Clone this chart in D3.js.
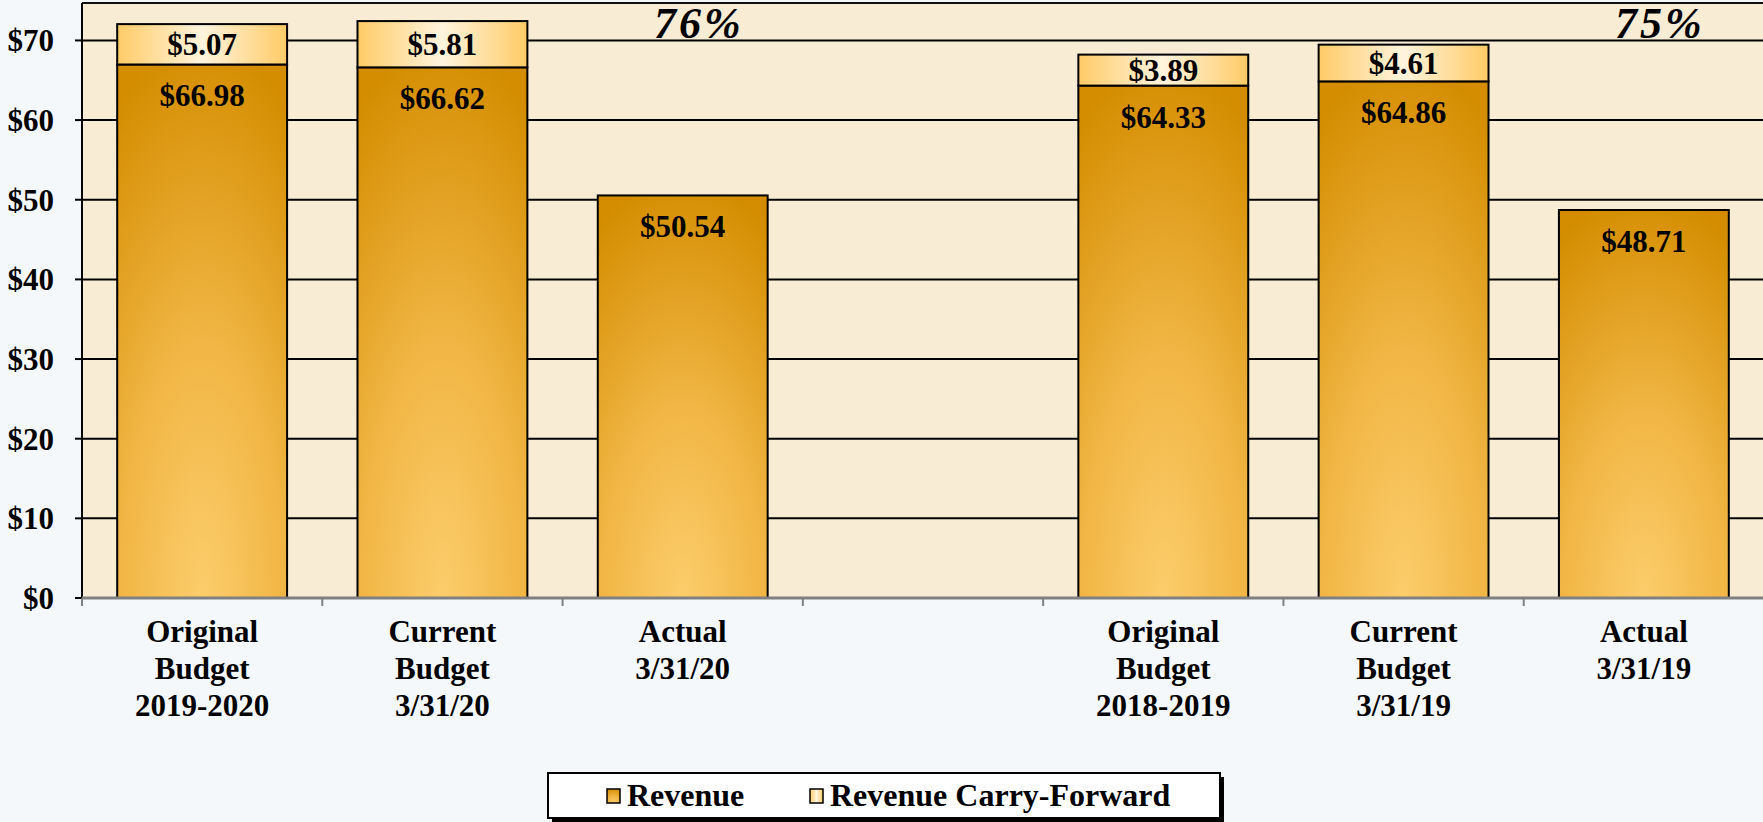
<!DOCTYPE html>
<html>
<head>
<meta charset="utf-8">
<script src="https://cdn.jsdelivr.net/npm/d3@7"></script>
<style>
  html, body { margin: 0; padding: 0; background: #F5F8FA; }
  svg { display: block; }
  text { font-family: "Liberation Serif", "Times New Roman", serif; font-weight: bold; fill: #000; }
</style>
</head>
<body>
<svg id="chart" width="1763" height="822"></svg>
<script>
// ---- data ----
const categories = [
  ["Original", "Budget", "2019-2020"],
  ["Current", "Budget", "3/31/20"],
  ["Actual", "3/31/20"],
  [],
  ["Original", "Budget", "2018-2019"],
  ["Current", "Budget", "3/31/19"],
  ["Actual", "3/31/19"]
];
const revenue = [66.98, 66.62, 50.54, null, 64.33, 64.86, 48.71];
const carryForward = [5.07, 5.81, null, null, 3.89, 4.61, null];
const percentLabels = ["76%", "75%"];
const percentAt = [2, 6];
const yTicks = [0, 10, 20, 30, 40, 50, 60, 70];
const seriesNames = ["Revenue", "Revenue Carry-Forward"];

// ---- layout ----
const W = 1763, H = 822;
const plotLeft = 82, plotRight = 1764, plotTop = 3, plotBottom = 598;
const svg = d3.select("#chart");

const defs = svg.append("defs");
const gRev = defs.append("radialGradient").attr("id", "gradRev")
  .attr("cx", "50%").attr("cy", "100%").attr("r", "105%").attr("fx", "50%").attr("fy", "100%");
gRev.append("stop").attr("offset", "0%").attr("stop-color", "#FCCD6C");
gRev.append("stop").attr("offset", "45%").attr("stop-color", "#F1B645");
gRev.append("stop").attr("offset", "100%").attr("stop-color", "#D48D00");

const gCF = defs.append("linearGradient").attr("id", "gradCF")
  .attr("x1", "0%").attr("x2", "100%").attr("y1", "0%").attr("y2", "0%");
gCF.append("stop").attr("offset", "0%").attr("stop-color", "#FFCB66");
gCF.append("stop").attr("offset", "50%").attr("stop-color", "#FFF4DE");
gCF.append("stop").attr("offset", "100%").attr("stop-color", "#FFCB66");

const x = d3.scaleBand().domain(d3.range(categories.length))
  .range([plotLeft, plotRight]).paddingInner(0.293).paddingOuter(0.1465);
const y = d3.scaleLinear().domain([0, 74.7]).range([plotBottom, plotTop]);

// plot background
svg.append("rect").attr("x", plotLeft).attr("y", plotTop)
  .attr("width", plotRight - plotLeft).attr("height", plotBottom - plotTop)
  .attr("fill", "#F8ECD5");

// gridlines
svg.append("g").selectAll("line").data(yTicks.filter(d => d > 0)).join("line")
  .attr("x1", plotLeft).attr("x2", plotRight)
  .attr("y1", d => y(d)).attr("y2", d => y(d))
  .attr("stroke", "#000").attr("stroke-width", 2);

// top border
svg.append("line").attr("x1", plotLeft).attr("x2", plotRight)
  .attr("y1", plotTop).attr("y2", plotTop).attr("stroke", "#111").attr("stroke-width", 2);

// bars
const idx = d3.range(categories.length).filter(i => revenue[i] != null);
const bars = svg.append("g");
bars.selectAll("rect.rev").data(idx).join("rect").attr("class", "rev")
  .attr("x", i => x(i)).attr("width", x.bandwidth())
  .attr("y", i => y(revenue[i])).attr("height", i => y(0) - y(revenue[i]))
  .attr("fill", "url(#gradRev)").attr("stroke", "#000").attr("stroke-width", 2);
const cfIdx = idx.filter(i => carryForward[i] != null);
bars.selectAll("rect.cf").data(cfIdx).join("rect").attr("class", "cf")
  .attr("x", i => x(i)).attr("width", x.bandwidth())
  .attr("y", i => y(revenue[i] + carryForward[i])).attr("height", i => y(revenue[i]) - y(revenue[i] + carryForward[i]))
  .attr("fill", "url(#gradCF)").attr("stroke", "#000").attr("stroke-width", 2);

// value labels
const fmt = d3.format("$.2f");
svg.append("g").selectAll("text").data(idx).join("text")
  .attr("x", i => x(i) + x.bandwidth() / 2).attr("y", i => y(revenue[i]) + 42)
  .attr("text-anchor", "middle").style("font-size", "31px")
  .text(i => fmt(revenue[i]));
svg.append("g").selectAll("text").data(cfIdx).join("text")
  .attr("x", i => x(i) + x.bandwidth() / 2)
  .attr("y", i => (y(revenue[i]) + y(revenue[i] + carryForward[i])) / 2)
  .attr("dy", "0.36em")
  .attr("text-anchor", "middle").style("font-size", "31px")
  .text(i => fmt(carryForward[i]));

// percent labels
svg.append("g").selectAll("text").data(percentLabels).join("text")
  .attr("x", (d, k) => x(percentAt[k]) + x.bandwidth() / 2 + 16).attr("y", 38)
  .attr("text-anchor", "middle").style("font-size", "44px").style("font-style", "italic")
  .style("letter-spacing", "3px")
  .text(d => d);

// left axis
svg.append("line").attr("x1", plotLeft).attr("x2", plotLeft).attr("y1", plotTop).attr("y2", plotBottom)
  .attr("stroke", "#000").attr("stroke-width", 2);
const yAx = svg.append("g");
yAx.selectAll("line").data(yTicks).join("line")
  .attr("x1", plotLeft - 7).attr("x2", plotLeft).attr("y1", d => y(d)).attr("y2", d => y(d))
  .attr("stroke", "#000").attr("stroke-width", 2);
yAx.selectAll("text").data(yTicks).join("text")
  .attr("x", 54).attr("y", d => y(d)).attr("dy", "0.35em").attr("text-anchor", "end")
  .style("font-size", "31px").text(d => "$" + d);

// bottom axis
svg.append("line").attr("x1", plotLeft).attr("x2", plotRight).attr("y1", plotBottom).attr("y2", plotBottom)
  .attr("stroke", "#808080").attr("stroke-width", 3);
const bounds = d3.range(categories.length + 1).map(i => plotLeft + i * x.step());
svg.append("g").selectAll("line").data(bounds).join("line")
  .attr("x1", d => d).attr("x2", d => d).attr("y1", plotBottom).attr("y2", plotBottom + 8)
  .attr("stroke", "#808080").attr("stroke-width", 2);
const xl = svg.append("g").selectAll("text").data(d3.range(categories.length)).join("text")
  .attr("text-anchor", "middle").style("font-size", "31px")
  .attr("x", i => x(i) + x.bandwidth() / 2).attr("y", plotBottom + 44);
xl.selectAll("tspan").data(i => categories[i].map(t => ({ t, i }))).join("tspan")
  .attr("x", d => x(d.i) + x.bandwidth() / 2).attr("dy", (d, k) => k === 0 ? 0 : 37).text(d => d.t);

// legend
const lg = svg.append("g");
lg.append("rect").attr("x", 552).attr("y", 777).attr("width", 672).attr("height", 45).attr("fill", "#000");
lg.append("rect").attr("x", 548).attr("y", 773).attr("width", 672).attr("height", 45)
  .attr("fill", "#fff").attr("stroke", "#000").attr("stroke-width", 2);
const legendX = [607, 810];
const legendFill = ["url(#gradRev)", "url(#gradCF)"];
const li = lg.selectAll("g.item").data(seriesNames).join("g").attr("class", "item");
li.append("rect").attr("x", (d, k) => legendX[k]).attr("y", 789).attr("width", 13).attr("height", 14)
  .attr("fill", (d, k) => legendFill[k]).attr("stroke", "#000").attr("stroke-width", 1.5);
li.append("text").attr("x", (d, k) => legendX[k] + 20).attr("y", 806)
  .style("font-size", "32px").text(d => d);
</script>
</body>
</html>
